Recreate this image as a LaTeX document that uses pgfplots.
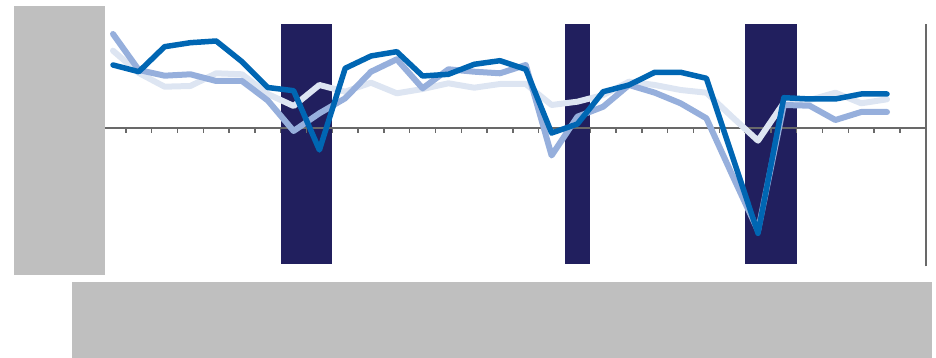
\documentclass[border=0pt]{standalone}
\usepackage{pgfplots}
\pgfplotsset{compat=1.18}
\usepackage{pgfplotstable}
\definecolor{darkblue}{RGB}{0,102,179}
\definecolor{midblue}{RGB}{150,175,220}
\definecolor{lightblue}{RGB}{221,229,242}
\definecolor{navy}{RGB}{33,31,94}
\definecolor{axgray}{RGB}{105,105,105}
\definecolor{boxgray}{RGB}{191,191,191}

\pgfplotstableread{
x dark mid light
0 63 94 77.3
1 56.3 58 55
2 81.3 52.3 41.3
3 85.3 53.7 42
4 87 47 54.7
5 66.3 47 53.7
6 40.5 27.5 34
7 37.3 -3 22
8 -22 14.7 43
9 59.7 29.7 36.3
10 72 56.3 45.3
11 76.3 68.7 34.7
12 52 39.7 39
13 53.7 58.7 44.7
14 63.7 56.3 40.3
15 67.3 54.7 44
16 58.7 63 44
17 -5 -27.5 23
18 4 11.3 26.3
19 36.3 21.3 33
20 43 43 46.3
21 55.7 35.3 43
22 55.7 24.7 38
23 49.7 9.7 35.3
24 -27.7 -47 11
25 -105.3 -102.7 -12.7
26 30.3 23 25.3
27 29 22.3 28
28 29 8 35.3
29 34 16 24.7
30 34 16 28.7
}\datatable

\begin{document}
\begin{tikzpicture}
\useasboundingbox (0,0) rectangle (936pt,358pt);
\begin{axis}[
  at={(100.1pt,92pt)}, anchor=south west,
  scale only axis, width=825.6pt, height=242pt,
  xmin=-0.5, xmax=31.5, ymin=-138, ymax=104,
  axis lines=none, clip=false,
]
% recession bands
\addplot[fill=navy, draw=none] coordinates {(6.5,-136) (8.5,-136) (8.5,104) (6.5,104)} -- cycle;
\addplot[fill=navy, draw=none] coordinates {(17.5,-136) (18.5,-136) (18.5,104) (17.5,104)} -- cycle;
\addplot[fill=navy, draw=none] coordinates {(24.5,-136) (26.5,-136) (26.5,104) (24.5,104)} -- cycle;
% zero line and ticks
\addplot[axgray, line width=2.7pt] coordinates {(-0.5,0) (31.5,0)};
\addplot[ycomb, axgray, line width=1.3pt, mark=none] coordinates {
(0.5,-5.5) (1.5,-5.5) (2.5,-5.5) (3.5,-5.5) (4.5,-5.5) (5.5,-5.5) (6.5,-5.5) (7.5,-5.5)
(8.5,-5.5) (9.5,-5.5) (10.5,-5.5) (11.5,-5.5) (12.5,-5.5) (13.5,-5.5) (14.5,-5.5) (15.5,-5.5)
(16.5,-5.5) (17.5,-5.5) (18.5,-5.5) (19.5,-5.5) (20.5,-5.5) (21.5,-5.5) (22.5,-5.5) (23.5,-5.5)
(24.5,-5.5) (25.5,-5.5) (26.5,-5.5) (27.5,-5.5) (28.5,-5.5) (29.5,-5.5) (30.5,-5.5)};
% right axis
\addplot[axgray, line width=1.8pt] coordinates {(31.5,-138.5) (31.5,104)};
% series
\addplot[lightblue, line width=6pt, line join=round, line cap=round] table[x=x, y=light] {\datatable};
\addplot[midblue, line width=6pt, line join=round, line cap=round] table[x=x, y=mid] {\datatable};
\addplot[darkblue, line width=5.5pt, line join=round, line cap=round] table[x=x, y=dark] {\datatable};
\end{axis}
% redaction boxes
\fill[boxgray] (14pt,83pt) rectangle (105pt,352pt);
\fill[boxgray] (72pt,0pt) rectangle (932pt,76pt);
\end{tikzpicture}
\end{document}
